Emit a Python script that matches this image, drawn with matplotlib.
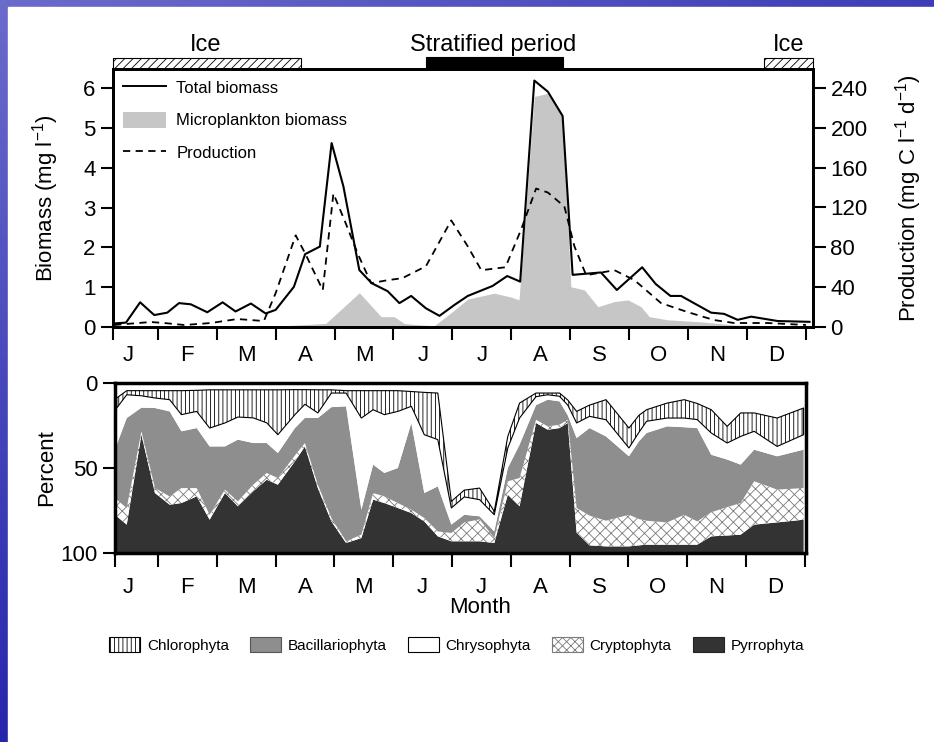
import numpy as np
import matplotlib.pyplot as plt
from matplotlib.patches import Rectangle, Patch
from matplotlib.lines import Line2D

plt.rcParams['font.family'] = ['Liberation Sans', 'DejaVu Sans']
plt.rcParams['hatch.linewidth'] = 0.6
plt.rcParams['mathtext.fontset'] = 'custom'
plt.rcParams['mathtext.rm'] = 'Liberation Sans'

months = ['J', 'F', 'M', 'A', 'M', 'J', 'J', 'A', 'S', 'O', 'N', 'D']

# top panel: x = months since 1 Jan
bio_t = [0.26, 0.46, 0.70, 0.94, 1.16, 1.36, 1.56, 1.84, 2.10, 2.32, 2.58, 2.83, 3.00,
         3.31, 3.50, 3.75, 3.95, 4.15, 4.42, 4.63, 4.90, 5.10, 5.30, 5.55, 5.78, 6.03,
         6.26, 6.68, 6.93, 7.15, 7.39, 7.62, 7.87, 8.04, 8.52, 8.79, 9.22, 9.45, 9.70,
         9.88, 10.39, 10.61, 10.84, 11.07, 11.52, 12.06]
bio = [0.09, 0.11, 0.62, 0.30, 0.36, 0.60, 0.57, 0.37, 0.62, 0.39, 0.59, 0.34, 0.43,
       1.01, 1.83, 2.02, 4.62, 3.53, 1.43, 1.10, 0.90, 0.60, 0.78, 0.47, 0.28, 0.55,
       0.78, 1.03, 1.28, 1.14, 6.19, 5.91, 5.30, 1.31, 1.37, 0.93, 1.50, 1.08, 0.78,
       0.78, 0.36, 0.33, 0.18, 0.26, 0.15, 0.13]

prod_t = [0.26, 0.46, 0.88, 1.11, 1.45, 1.90, 2.35, 2.80, 3.00, 3.34, 3.50, 3.80, 3.98,
          4.19, 4.39, 4.62, 4.90, 5.15, 5.55, 5.98, 6.26, 6.49, 6.90, 7.16, 7.42, 7.62,
          7.90, 8.07, 8.27, 8.75, 9.09, 9.54, 9.99, 10.44, 10.78, 11.35, 12.0]
prod = [2, 3, 5, 4, 2, 4, 8, 6, 34, 92, 74, 37, 134, 104, 74, 44, 47, 49, 61, 107, 81,
        57, 60, 97, 139, 135, 121, 81, 52, 57, 47, 24, 15, 7, 4, 4, 2]

micro_t = [0.26, 3.00, 3.85, 4.42, 4.79, 5.01, 5.18, 5.30, 5.69, 5.97, 6.26, 6.71, 7.00,
           7.13, 7.39, 7.62, 7.87, 8.01, 8.24, 8.47, 8.75, 8.98, 9.20, 9.34, 9.65,
           10.22, 10.78, 12.0]
micro = [0.0, 0.02, 0.09, 0.86, 0.26, 0.26, 0.09, 0.07, 0.03, 0.35, 0.70, 0.85, 0.75,
         0.68, 5.79, 5.87, 5.33, 1.01, 0.93, 0.51, 0.64, 0.68, 0.51, 0.26, 0.18, 0.13,
         0.05, 0.02]

# bottom panel: percent composition
pct_t = [0.30, 0.47, 0.72, 0.95, 1.20, 1.40, 1.66, 1.88, 2.14, 2.36, 2.62, 2.85, 3.04,
         3.33, 3.50, 3.72, 3.95, 4.20, 4.46, 4.66, 4.85, 5.08, 5.31, 5.53, 5.76, 5.99,
         6.21, 6.47, 6.72, 6.95, 7.15, 7.43, 7.63, 7.83, 7.97, 8.12, 8.34, 8.62, 9.01,
         9.18, 9.31, 9.66, 9.95, 10.17, 10.41, 10.68, 10.91, 11.14, 11.53, 11.98]
pyrro = [21.6, 16.7, 69.6, 35.3, 28.4, 29.4, 33.3, 19.6, 35.3, 27.5, 36.3, 43.1, 40.2,
         53.9, 62.7, 38.2, 18.6, 5.9, 8.8, 31.4, 29.4, 26.5, 23.5, 18.6, 9.8, 6.9, 6.9,
         6.9, 5.9, 34.3, 27.5, 76.5, 72.5, 73.5, 76.5, 12.0, 4.5, 3.9, 3.9, 4.5, 4.9,
         4.9, 4.9, 4.9, 9.8, 10.3, 10.8, 16.7, 18.0, 19.6]
crypto = [9.8, 9.8, 2.0, 2.9, 4.9, 8.8, 4.9, 2.9, 2.0, 2.9, 3.9, 4.0, 3.9, 3.5, 2.0,
          2.0, 2.0, 1.0, 2.0, 3.9, 3.9, 2.9, 2.0, 2.0, 2.9, 4.9, 11.1, 12.9, 2.9, 7.9,
          16.6, 1.9, 2.0, 2.0, 1.9, 14.5, 17.5, 15.1, 18.6, 15.5, 14.1, 13.1, 17.6,
          13.7, 14.2, 16.7, 18.6, 25.5, 19.3, 18.6]
bacil = [32.3, 52.9, 13.9, 47.1, 50.0, 33.4, 35.3, 40.2, 25.4, 36.3, 24.5, 17.6, 14.7,
         16.1, 14.8, 39.2, 65.2, 79.4, 14.7, 16.7, 13.8, 20.6, 51.0, 14.7, 26.5, 4.9,
         4.5, 1.8, 3.9, 7.8, 19.6, 8.6, 15.7, 13.7, 2.6, 41.1, 51.5, 49.6, 34.4, 45.7,
         51.6, 56.5, 51.5, 54.9, 33.8, 28.0, 22.6, 18.6, 19.6, 22.6]
chryso = [21.6, 13.7, 7.0, 5.9, 6.9, 9.8, 9.8, 10.8, 13.8, 13.3, 14.8, 11.9, 10.8, 7.9,
          8.0, 3.0, 8.3, 7.8, 53.9, 32.3, 34.3, 33.3, 9.8, 34.3, 27.5, 9.8, 10.5, 9.8,
          9.8, 11.8, 15.7, 5.0, 2.9, 3.0, 6.0, 8.9, 6.9, 9.8, 4.9, 5.3, 6.9, 4.9, 5.4,
          5.0, 12.8, 9.7, 16.6, 10.8, 5.8, 8.8]
chloro = [5.9, 2.4, 3.0, 4.3, 5.3, 14.1, 12.4, 22.5, 19.5, 16.0, 16.5, 19.4, 26.4, 14.7,
          8.6, 13.6, 1.9, 1.4, 16.1, 11.2, 14.1, 12.2, 8.7, 24.9, 27.4, 3.9, 4.0, 6.8,
          2.0, 6.8, 8.8, 2.1, 1.0, 1.9, 3.0, 6.8, 6.6, 11.8, 11.7, 10.0, 6.8, 8.8, 10.8,
          9.5, 13.7, 9.8, 13.8, 10.8, 16.7, 15.7]

fig = plt.figure(figsize=(9.34, 7.42), dpi=100)

# blue slide frame on the left and top
bg = fig.add_axes([0, 0, 1, 1], zorder=-10)
yy, xx = np.mgrid[0:1:200j, 0:1:200j]
t = np.clip(yy * 0.9 + xx * 0.6, 0, 1)[..., None]
light = np.array([0.42, 0.42, 0.80])
dark = np.array([0.12, 0.12, 0.66])
bg.imshow(light * (1 - t) + dark * t, extent=[0, 1, 0, 1], aspect='auto', origin='upper')
bg.add_patch(Rectangle((8 / 934, 0), 1, 735 / 742, color='white'))
bg.set_xlim(0, 1)
bg.set_ylim(0, 1)
bg.set_axis_off()

# ---- top panel ----
ax1 = fig.add_axes([0.1210, 0.5593, 0.7495, 0.3477])
ax1.fill_between(micro_t, micro, color='#c6c6c6', lw=0)
ax1.plot(bio_t, bio, color='k', lw=1.5)
ax2 = ax1.twinx()
ax2.plot(prod_t, prod, color='k', lw=1.3, ls='--', dashes=(4, 3))

ax1.set_xlim(0.24, 12.12)
ax1.set_ylim(0, 6.48)
ax2.set_ylim(0, 259)

for a in (ax1, ax2):
    for s in a.spines.values():
        s.set_linewidth(2)

ax1.set_xticks([0.24] + list(range(1, 13)))
ax1.set_xticklabels([])
ax1.set_xticks(np.arange(12) + 0.5, minor=True)
ax1.set_xticklabels(months, minor=True)
ax1.tick_params(axis='x', which='major', length=9, width=1.5)
ax1.tick_params(axis='x', which='minor', length=0, labelsize=16, pad=13)
ax1.set_yticks(range(7))
ax1.tick_params(axis='y', length=9, width=1.5, labelsize=16)
ax2.set_yticks(range(0, 241, 40))
ax2.tick_params(axis='y', length=9, width=1.5, labelsize=16)

ax1.set_ylabel('Biomass (mg l$^{-1}$)', fontsize=16)
ax1.yaxis.set_label_coords(-0.075, 0.5)
ax2.set_ylabel('Production (mg C l$^{-1}$ d$^{-1}$)', fontsize=16)
ax2.yaxis.set_label_coords(1.115, 0.5)

# ice / stratified bars above the top panel
top = 6.48
ax1.add_patch(Rectangle((0.24, top), 3.43 - 0.24, 0.27, facecolor='white', edgecolor='k',
                        lw=0.8, hatch='////', clip_on=False))
ax1.add_patch(Rectangle((11.29, top), 12.12 - 11.29, 0.27, facecolor='white', edgecolor='k',
                        lw=0.8, hatch='////', clip_on=False))
ax1.add_patch(Rectangle((5.55, top), 7.88 - 5.55, 0.3, facecolor='black', edgecolor='k',
                        lw=0.8, clip_on=False))
ax1.text(1.81, 7.09, 'Ice', fontsize=17, ha='center', va='center')
ax1.text(6.69, 7.09, 'Stratified period', fontsize=17, ha='center', va='center')
ax1.text(11.70, 7.09, 'Ice', fontsize=17, ha='center', va='center')

handles = [Line2D([], [], color='k', lw=1.4),
           Patch(facecolor='#c6c6c6', lw=0),
           Line2D([], [], color='k', lw=1.3, ls='--', dashes=(4, 3))]
ax2.legend(handles, ['Total biomass', 'Microplankton biomass', 'Production'],
           loc='upper left', bbox_to_anchor=(0, 1), frameon=False,
           prop=dict(size=12), handlelength=2.6, handleheight=1.1, labelspacing=0.95,
           borderaxespad=0.3, borderpad=0.3, handletextpad=0.6)

# ---- bottom panel ----
ax3 = fig.add_axes([0.1231, 0.2547, 0.7398, 0.2291])
layers = np.vstack([pyrro, crypto, bacil, chryso, chloro])
tops = 100 - np.cumsum(layers, axis=0)
lows = np.vstack([np.full(len(pct_t), 100.0), tops[:-1]])

ax3.fill_between(pct_t, tops[0], lows[0], facecolor='#333333', lw=0)
ax3.fill_between(pct_t, tops[1], lows[1], facecolor='white', edgecolor='#7a7a7a',
                 hatch='xxx', lw=0)
ax3.fill_between(pct_t, tops[2], lows[2], facecolor='#8e8e8e', lw=0)
ax3.fill_between(pct_t, tops[3], lows[3], facecolor='white', lw=0)
ax3.fill_between(pct_t, tops[4], lows[4], facecolor='white', edgecolor='k',
                 hatch='||||', lw=0.8)

ax3.set_xlim(0.27, 12.02)
ax3.set_ylim(100, 0)
for s in ax3.spines.values():
    s.set_linewidth(2.5)
ax3.set_xticks([0.27] + list(range(1, 13)))
ax3.set_xticklabels([])
ax3.set_xticks(np.arange(12) + 0.5, minor=True)
ax3.set_xticklabels(months, minor=True)
ax3.tick_params(axis='x', which='major', length=10, width=1.5)
ax3.tick_params(axis='x', which='minor', length=0, labelsize=16, pad=17)
ax3.set_yticks([0, 50, 100])
ax3.tick_params(axis='y', length=9, width=1.5, labelsize=16)
ax3.set_ylabel('Percent', fontsize=16)
ax3.yaxis.set_label_coords(-0.084, 0.5)
ax3.set_xlabel('Month', fontsize=16)
ax3.xaxis.set_label_coords(0.528, -0.26)

leg_handles = [Patch(facecolor='white', edgecolor='k', hatch='||||', lw=0.8),
               Patch(facecolor='#8e8e8e', edgecolor='#555555', lw=0.8),
               Patch(facecolor='white', edgecolor='k', lw=0.8),
               Patch(facecolor='white', edgecolor='#7a7a7a', hatch='xxxx', lw=0.8),
               Patch(facecolor='#333333', edgecolor='#222222', lw=0.8)]
fig.legend(leg_handles, ['Chlorophyta', 'Bacillariophyta', 'Chrysophyta', 'Cryptophyta',
                         'Pyrrophyta'],
           loc='center', bbox_to_anchor=(0.489, 0.131), ncol=5, frameon=False,
           prop=dict(size=11), handlelength=2.0, handleheight=1.2,
           columnspacing=1.4, handletextpad=0.45)

fig.savefig('out.png', dpi=100)
